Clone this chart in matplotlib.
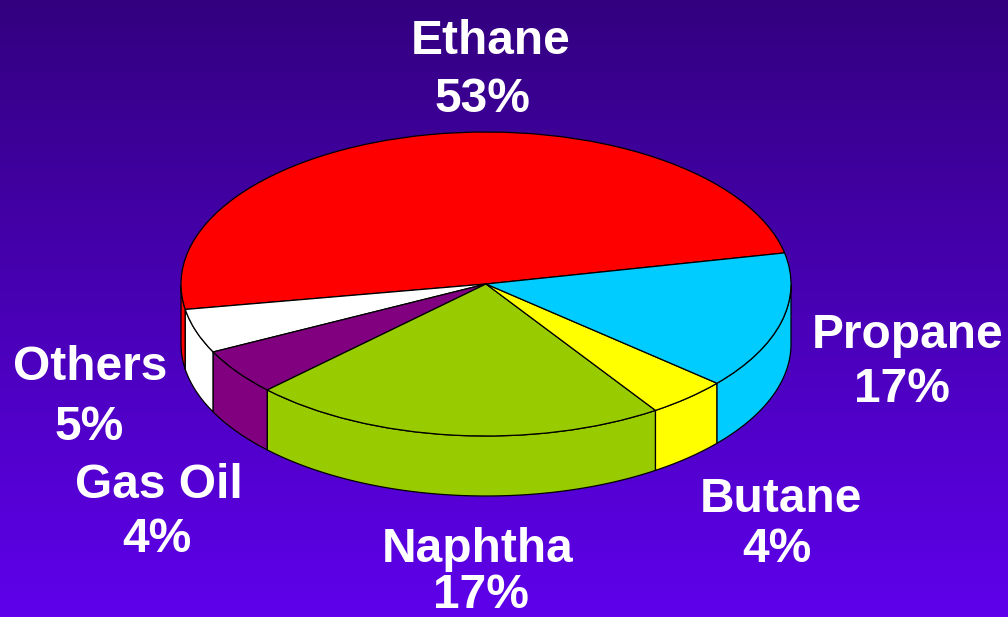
import numpy as np
import matplotlib
matplotlib.use('Agg')
import matplotlib.pyplot as plt
from matplotlib.transforms import Affine2D

# labels and the percentages printed on the chart, going counterclockwise
names = ['Ethane', 'Others', 'Gas Oil', 'Naphtha', 'Butane', 'Propane']
printed = [53, 5, 4, 17, 4, 17]
# slice sizes as drawn (the 3D view of the original squeezes them)
drawn = [49.4, 4.7, 4.9, 22.1, 4.3, 14.6]
colors = ['#ff0000', '#ffffff', '#800080', '#99cc00', '#ffff00', '#00ccff']
name_pos = [(491, 41), (90, 367), (159, 485), (478, 549), (781, 500), (908, 335)]
pct_pos = [(482, 99), (89, 428), (157, 539), (481, 596), (777, 549), (902, 389)]

cx, cy, rx, ry, depth = 486, 333, 305, 152, 60
start = 11.8

fig = plt.figure(figsize=(10.08, 6.17), dpi=100)
ax = fig.add_axes([0, 0, 1, 1])

# background gradient, dark at the top
grad = np.array([[0, 0.2, 0.0, 0.5], [1, 0.37, 0.0, 0.92]])
t = np.linspace(0, 1, 256)
img = np.stack([np.interp(t, grad[:, 0], grad[:, i]) for i in (1, 2, 3)], axis=1)[:, None, :]
ax.imshow(img, extent=[0, 1008, 617, 0], origin='lower', aspect='auto', zorder=0)

# top of the pie, squashed into an ellipse
squash = Affine2D().scale(rx, ry).translate(cx, cy) + ax.transData
wedges, _ = ax.pie(drawn, colors=colors, startangle=start, counterclock=True, radius=1,
                   wedgeprops=dict(edgecolor='black', linewidth=0.9, zorder=4), frame=False)
for w in wedges:
    w.set_transform(squash)
ax.set_xlim(0, 1008)
ax.set_ylim(0, 617)
ax.set_aspect('auto')
ax.axis('off')

# side wall, only where the rim faces the viewer
edges = start + np.cumsum([0] + drawn) * 3.6
for i, col in enumerate(colors):
    a = np.linspace(edges[i], edges[i + 1], 120)
    a = a[np.sin(np.radians(a)) <= 0.0]
    if len(a) < 2:
        continue
    xs = cx + rx * np.cos(np.radians(a))
    ys = cy + ry * np.sin(np.radians(a))
    ax.fill(np.r_[xs, xs[::-1]], np.r_[ys, ys[::-1] - depth], facecolor=col,
            edgecolor='black', linewidth=0.9, zorder=3)

for name, pct, p1, p2 in zip(names, printed, name_pos, pct_pos):
    for s, (x, y) in ((name, p1), (f'{pct}%', p2)):
        ax.text(x, 617 - y, s, color='white', fontsize=34.5, fontweight='bold',
                family='Liberation Sans', ha='center', va='center', zorder=5)

fig.savefig('out.png', dpi=100)
